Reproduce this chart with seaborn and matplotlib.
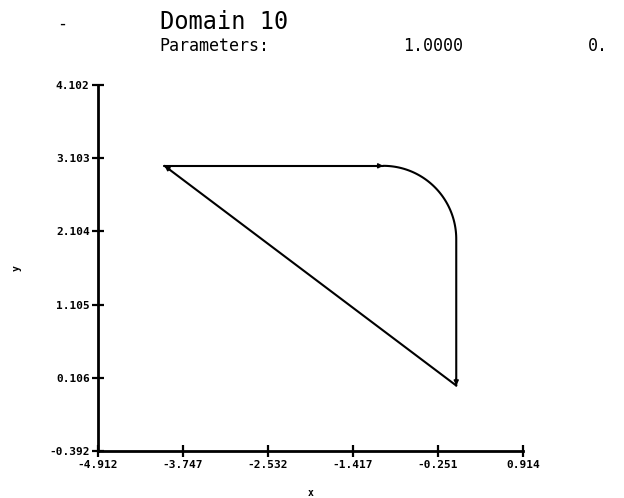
import numpy as np
import pandas as pd
import matplotlib
matplotlib.use("Agg")
import matplotlib.pyplot as plt
import seaborn as sns

# Boundary of the domain, traversed as three oriented pieces
top_x = [-4.0, -1.0]
top_y = [3.0, 3.0]

# rounded corner: quarter circle centred at (-1, 2), radius 1, then straight down to the origin
arc_center = (-1.0, 2.0)
arc_radius = 1.0
side_x = [0.0, 0.0]
side_y = [2.0, 0.0]

diag_x = [0.0, -4.0]
diag_y = [0.0, 3.0]

# Axis ticks
x_ticks = [-4.912, -3.747, -2.582, -1.417, -0.251, 0.914]
x_tick_labels = ["-4.912", "-3.747", "-2.532", "-1.417", "-0.251", "0.914"]
y_ticks = [-0.893, 0.106, 1.105, 2.104, 3.103, 4.102]
y_tick_labels = ["-0.392", "0.106", "1.105", "2.104", "3.103", "4.102"]

title = "Domain 10"
param_label = "Parameters:"
param_values = ["1.0000", "0."]

sns.set_theme(style="white")
plt.rcParams["font.family"] = ["DejaVu Sans Mono", "DejaVu Sans"]

fig = plt.figure(figsize=(6.24, 4.98), dpi=100)
ax = fig.add_axes([0.157, 0.0944, 0.681, 0.7347])

theta = np.linspace(np.pi / 2, 0.0, 60)
arc_x = arc_center[0] + arc_radius * np.cos(theta)
arc_y = arc_center[1] + arc_radius * np.sin(theta)

pieces = [
    pd.DataFrame({"x": top_x, "y": top_y, "piece": "top"}),
    pd.DataFrame({"x": np.concatenate([arc_x, side_x]),
                  "y": np.concatenate([arc_y, side_y]), "piece": "side"}),
    pd.DataFrame({"x": diag_x, "y": diag_y, "piece": "diag"}),
]
for df in pieces:
    sns.lineplot(data=df, x="x", y="y", sort=False, estimator=None,
                 color="black", linewidth=1.5, ax=ax)
    # arrowhead at the end of each piece, pointing along its direction
    x0, y0 = df["x"].iloc[-2], df["y"].iloc[-2]
    x1, y1 = df["x"].iloc[-1], df["y"].iloc[-1]
    dx, dy = x1 - x0, y1 - y0
    n = np.hypot(dx, dy)
    ax.annotate("", xy=(x1, y1), xytext=(x1 - 0.1 * dx / n, y1 - 0.1 * dy / n),
                arrowprops=dict(arrowstyle="-|>", color="black", lw=1.1,
                                mutation_scale=7, shrinkA=0, shrinkB=0))

ax.set_xlim(x_ticks[0], x_ticks[-1])
ax.set_ylim(y_ticks[0], y_ticks[-1])
ax.set_xticks(x_ticks)
ax.set_xticklabels(x_tick_labels)
ax.set_yticks(y_ticks)
ax.set_yticklabels(y_tick_labels)

for side in ["top", "right"]:
    ax.spines[side].set_visible(False)
for side in ["left", "bottom"]:
    ax.spines[side].set_color("black")
    ax.spines[side].set_linewidth(2.0)
ax.spines["bottom"].set_bounds(x_ticks[0], x_ticks[-1])
ax.spines["left"].set_bounds(y_ticks[0], y_ticks[-1])

ax.tick_params(axis="x", direction="inout", length=9, width=1.6, color="black",
               labelsize=8, pad=2, bottom=True)
ax.tick_params(axis="y", direction="inout", length=8, width=1.6, color="black",
               labelsize=8, pad=2, left=True)
for lab in ax.get_xticklabels() + ax.get_yticklabels():
    lab.set_fontweight("bold")
    lab.set_color("black")

ax.set_xlabel("x", fontsize=7, fontweight="bold", labelpad=13, color="black")
ax.set_ylabel("y", fontsize=7, fontweight="bold", labelpad=20, color="black")

fig.text(0.10, 0.953, "-", fontsize=12, color="black", va="center", ha="center")
fig.text(0.256, 0.955, title, fontsize=17, color="black", va="center", ha="left")
fig.text(0.256, 0.908, param_label, fontsize=12, color="black", va="center", ha="left")
fig.text(0.646, 0.908, param_values[0], fontsize=12, color="black", va="center", ha="left")
fig.text(0.942, 0.908, param_values[1], fontsize=12, color="black", va="center", ha="left")

fig.savefig("out.png", dpi=100, facecolor="white")
